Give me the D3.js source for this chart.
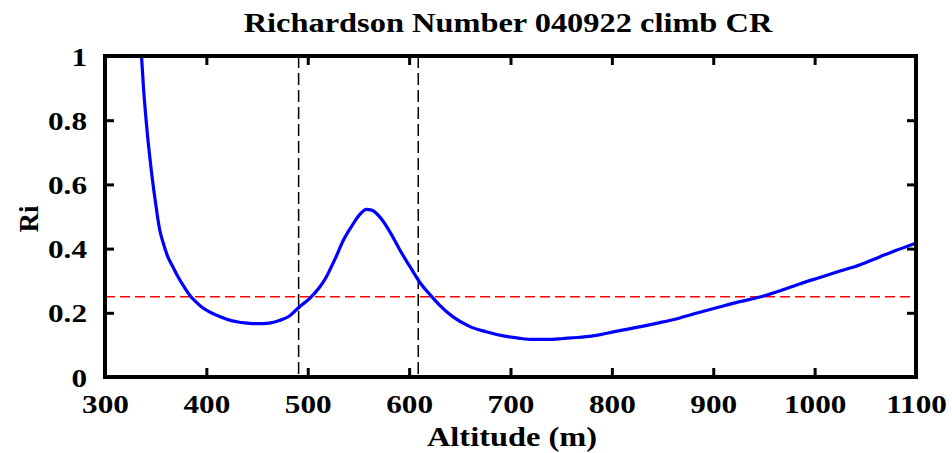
<!DOCTYPE html>
<html lang="en">
  <head>
    <meta charset="utf-8">
    <script src="https://d3js.org/d3.v7.min.js"></script>
    <style>
      body { margin: 0; background: #fff; }
      text { font-family: "Liberation Serif", "Times New Roman", serif; font-weight: bold; }
    </style>
  </head>
  <body>
    <svg id="plotarea" width="952" height="453"></svg>
    <script>
      // Altitude (m) and Richardson number
      var altitude = [336, 338, 340, 342, 344, 346, 348, 350, 352, 354, 357, 362, 367, 372, 379, 384, 390, 395, 403, 412, 420, 430, 440, 450, 462, 472, 482, 492, 502, 512, 518, 522, 528, 535, 543, 551, 558, 563, 571, 579, 585, 591, 601, 611, 621, 630, 643, 660, 676, 693, 708, 722, 737, 752, 766, 781, 805, 827, 845, 867, 885, 906, 925, 946, 965, 985, 1005, 1025, 1045, 1064, 1080, 1100];
      var ri = [1.0, 0.9, 0.82, 0.75, 0.69, 0.635, 0.585, 0.54, 0.495, 0.458, 0.422, 0.374, 0.343, 0.312, 0.276, 0.253, 0.233, 0.219, 0.203, 0.19, 0.18, 0.172, 0.168, 0.166, 0.168, 0.176, 0.19, 0.219, 0.245, 0.281, 0.31, 0.335, 0.375, 0.425, 0.468, 0.505, 0.522, 0.52, 0.499, 0.463, 0.43, 0.395, 0.343, 0.293, 0.255, 0.224, 0.188, 0.157, 0.141, 0.128, 0.121, 0.117, 0.117, 0.12, 0.123, 0.128, 0.143, 0.156, 0.168, 0.184, 0.2, 0.218, 0.234, 0.249, 0.268, 0.29, 0.31, 0.33, 0.35, 0.374, 0.394, 0.417];
      var xTicks = [300, 400, 500, 600, 700, 800, 900, 1000, 1100];
      var yTicks = [0, 0.2, 0.4, 0.6, 0.8, 1];
      var markers = [491, 609];
      var riCritical = 0.25;

      var svg = d3.select('#plotarea');
      var pl = 105, pr = 916, pt = 56, pb = 377;
      var stretch = 1.2; // the reference glyphs are wider than tall

      var x = d3.scaleLinear().domain([300, 1100]).range([pl, pr]);
      var y = d3.scaleLinear().domain([0, 1]).range([pb, pt]);

      svg.append('clipPath').attr('id', 'clip')
        .append('rect').attr('x', pl).attr('y', pt).attr('width', pr - pl).attr('height', pb - pt);

      var pts = altitude.map(function(a, i) { return [a, ri[i]]; });

      var line = d3.line()
        .x(function(d) { return x(d[0]); })
        .y(function(d) { return y(d[1]); })
        .curve(d3.curveMonotoneX);

      svg.append('line')
        .attr('x1', pl).attr('x2', pr)
        .attr('y1', y(riCritical)).attr('y2', y(riCritical))
        .attr('stroke', '#ff0000').attr('stroke-width', 1.5).attr('stroke-dasharray', '10,5');

      svg.selectAll('line.marker')
        .data(markers)
        .enter()
        .append('line')
        .attr('class', 'marker')
        .attr('x1', function(d) { return x(d); }).attr('x2', function(d) { return x(d); })
        .attr('y1', pt).attr('y2', pb)
        .attr('stroke', '#000').attr('stroke-width', 1.5).attr('stroke-dasharray', '12,5');

      svg.append('path')
        .datum(pts)
        .attr('clip-path', 'url(#clip)')
        .attr('fill', 'none')
        .attr('stroke', '#0000ff')
        .attr('stroke-width', 3.2)
        .attr('d', line);

      // axes, ticks inward on all four sides
      var tickLen = 9;
      var xb = svg.append('g').attr('transform', 'translate(0,' + pb + ')')
        .call(d3.axisBottom(x).tickValues(xTicks).tickSizeInner(-tickLen).tickSizeOuter(0).tickPadding(tickLen + 9).tickFormat(d3.format('d')));
      var xt = svg.append('g').attr('transform', 'translate(0,' + pt + ')')
        .call(d3.axisTop(x).tickValues(xTicks).tickSizeInner(-tickLen).tickSizeOuter(0).tickFormat(''));
      var yl = svg.append('g').attr('transform', 'translate(' + pl + ',0)')
        .call(d3.axisLeft(y).tickValues(yTicks).tickSizeInner(-tickLen).tickSizeOuter(0).tickPadding(tickLen + 9).tickFormat(d3.format('')));
      var yr = svg.append('g').attr('transform', 'translate(' + pr + ',0)')
        .call(d3.axisRight(y).tickValues(yTicks).tickSizeInner(-tickLen).tickSizeOuter(0).tickFormat(''));

      [xb, xt, yl, yr].forEach(function(g) {
        g.select('.domain').remove();
        g.selectAll('.tick line').attr('stroke', '#000').attr('stroke-width', 3);
        g.selectAll('.tick text').attr('fill', '#000').style('font-size', '26px');
      });
      xb.selectAll('.tick text').attr('dy', '0.71em');
      yl.selectAll('.tick text').attr('dy', '0.35em');

      svg.append('rect')
        .attr('x', pl).attr('y', pt).attr('width', pr - pl).attr('height', pb - pt)
        .attr('fill', 'none').attr('stroke', '#000').attr('stroke-width', 4);

      svg.append('text').attr('x', 508).attr('y', 32)
        .attr('text-anchor', 'middle').style('font-size', '27px')
        .text('Richardson Number 040922 climb CR');

      svg.append('text').attr('x', 512).attr('y', 446)
        .attr('text-anchor', 'middle').style('font-size', '27px')
        .text('Altitude (m)');

      svg.append('text')
        .attr('transform', 'translate(38,219) rotate(-90)')
        .attr('text-anchor', 'middle').style('font-size', '27px')
        .text('Ri');

      // widen the horizontal text to match the reference glyph proportions
      svg.selectAll('text').each(function() {
        var t = d3.select(this);
        if (t.attr('transform') && t.attr('transform').indexOf('rotate') >= 0) return;
        var len = this.getComputedTextLength();
        if (len > 0) t.attr('textLength', len * stretch).attr('lengthAdjust', 'spacingAndGlyphs');
      });
    </script>
  </body>
</html>
